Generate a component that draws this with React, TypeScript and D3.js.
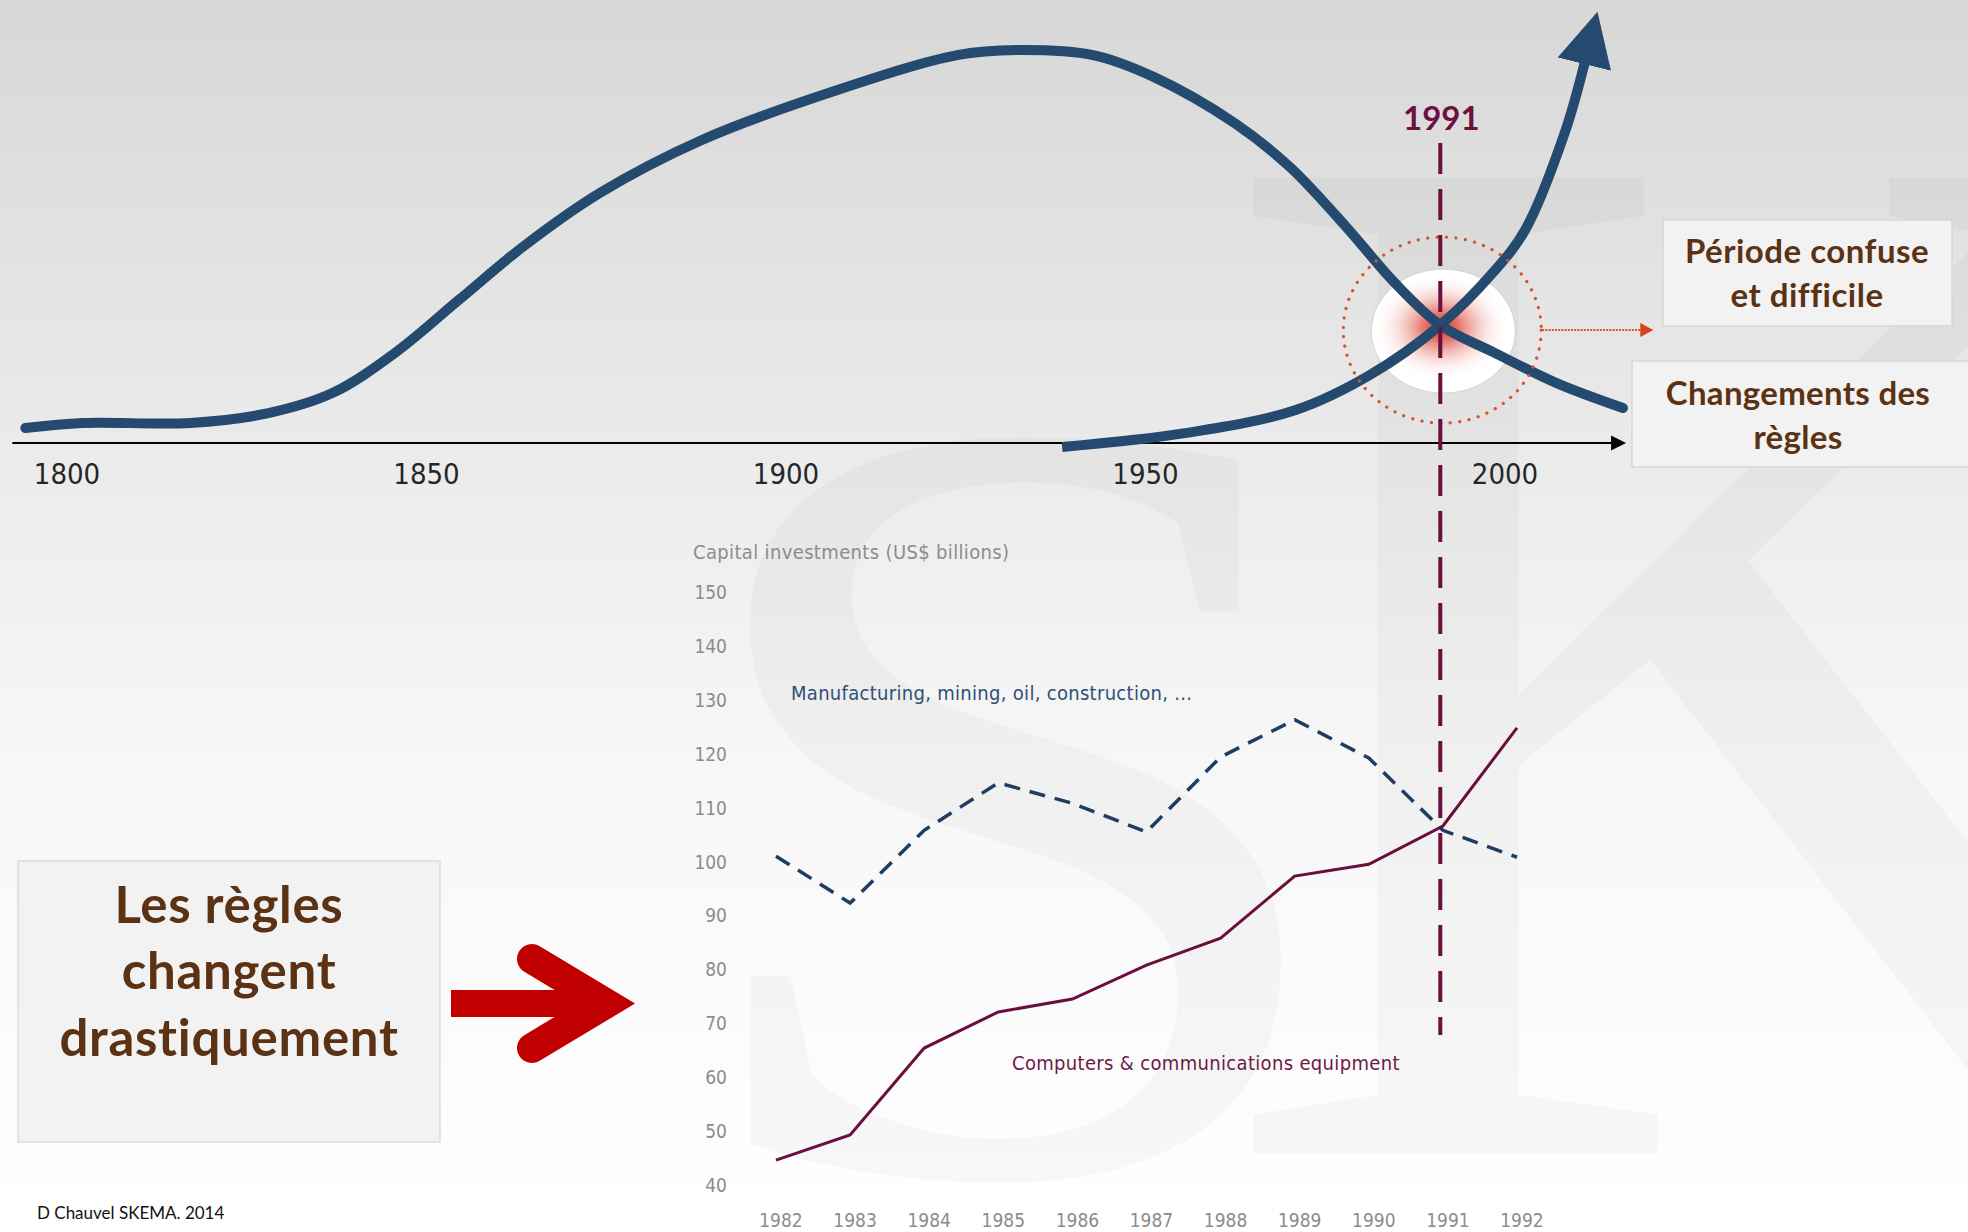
import React from 'react';
import * as d3 from 'd3';

const W = 1968;
const H = 1232;

// ---------- Top conceptual chart (two S-curves) ----------
const topTicks = [1800, 1850, 1900, 1950, 2000];
const wave1Years = [1794.2, 1802.2, 1817.2, 1828, 1836.9, 1845.6, 1854.5, 1863.4, 1874.1, 1888.3, 1906, 1923.8, 1932.1, 1942.7, 1951.2, 1962.4, 1970.1, 1977.9, 1984.7, 1991, 1998.5, 2007.1, 2016.4];
const wave1Values = [3.8, 5.1, 5.1, 7.6, 12.7, 22.9, 36.4, 49.9, 63.6, 77.1, 89.1, 98.7, 100, 98.7, 93.1, 81.4, 70.2, 55, 40.7, 30, 23, 15.3, 8.9];
const wave2Years = [1938.4, 1955.5, 1970.9, 1981.2, 1991, 1998.3, 2002.8, 2008.3, 2011.1];
const wave2Values = [-1, 2.5, 8.4, 17.3, 30, 43.3, 54.2, 78.9, 96.9];
const axisYears = [1792.4, 2016.7];
const markerYear = 1991;
const markerValue = 30;

// ---------- Bottom data chart ----------
const years = [1982, 1983, 1984, 1985, 1986, 1987, 1988, 1989, 1990, 1991, 1992];
const manufacturing = [101, 92.3, 105.8, 114.6, 110.8, 105.5, 119.4, 126.3, 119.2, 105.8, 100.8];
const computers = [44.6, 49.3, 65.4, 72.1, 74.5, 80.8, 85.8, 97.3, 99.5, 106.6, 124.8];
const yTicks = [40, 50, 60, 70, 80, 90, 100, 110, 120, 130, 140, 150];

const COND = "'DejaVu Sans Condensed', 'Liberation Sans Narrow', 'Liberation Sans', sans-serif";
const SANS = "Lato, 'Open Sans', 'Liberation Sans', sans-serif";

export default function App() {
  const xTop = d3.scaleLinear().domain([1800, 2000]).range([67, 1505]);
  const yTop = d3.scaleLinear().domain([0, 100]).range([443, 50]);

  const xB = d3.scaleLinear().domain([1982, 1992]).range([776, 1517]);
  const yB = d3.scaleLinear().domain([40, 150]).range([1185, 592]);

  const topLine = d3
    .line<[number, number]>()
    .x((d) => xTop(d[0]))
    .y((d) => yTop(d[1]))
    .curve(d3.curveCatmullRom.alpha(0.5));

  const wave1 = topLine(wave1Years.map((y, i) => [y, wave1Values[i]]) as [number, number][]) || '';
  const wave2 = topLine(wave2Years.map((y, i) => [y, wave2Values[i]]) as [number, number][]) || '';

  const bLine = d3
    .line<number>()
    .x((_, i) => xB(years[i]))
    .y((d) => yB(d));

  const mx = xTop(markerYear);
  const my = yTop(markerValue);
  const axY = yTop(0);
  const ax0 = xTop(axisYears[0]);
  const ax1 = xTop(axisYears[1]);

  return (
    <svg
      width={W}
      height={H}
      viewBox={`0 0 ${W} ${H}`}
      style={{ position: 'absolute', left: 0, top: 0, display: 'block' }}
    >
      <defs>
        <linearGradient id="bg" x1="0" y1="0" x2="0" y2="1">
          <stop offset="0" stopColor="#d7d7d7" />
          <stop offset="0.35" stopColor="#eaeaea" />
          <stop offset="0.62" stopColor="#f7f7f7" />
          <stop offset="1" stopColor="#ffffff" />
        </linearGradient>
        <radialGradient id="glow" cx="0.5" cy="0.5" r="0.5">
          <stop offset="0" stopColor="#d42418" stopOpacity="0.95" />
          <stop offset="0.25" stopColor="#dc4236" stopOpacity="0.72" />
          <stop offset="0.5" stopColor="#e7786e" stopOpacity="0.42" />
          <stop offset="0.75" stopColor="#f3bcb6" stopOpacity="0.15" />
          <stop offset="0.97" stopColor="#ffffff" stopOpacity="0" />
        </radialGradient>
        <marker
          id="bigHead"
          markerUnits="userSpaceOnUse"
          viewBox="0 -30 60 60"
          markerWidth="60"
          markerHeight="60"
          refX="2"
          refY="0"
          orient="auto"
        >
          <path d="M0,-27.5 L54,0 L0,27.5 Z" fill="#254a6f" />
        </marker>
        <marker
          id="axHead"
          markerUnits="userSpaceOnUse"
          viewBox="0 -8 16 16"
          markerWidth="16"
          markerHeight="16"
          refX="0"
          refY="0"
          orient="auto"
        >
          <path d="M0,-7.5 L15,0 L0,7.5 Z" fill="#000" />
        </marker>
        <marker
          id="dotHead"
          markerUnits="userSpaceOnUse"
          viewBox="0 -8 14 16"
          markerWidth="14"
          markerHeight="16"
          refX="0"
          refY="0"
          orient="auto"
        >
          <path d="M0,-7 L13,0 L0,7 Z" fill="#d8401a" />
        </marker>
      </defs>

      {/* background */}
      <rect x={0} y={0} width={W} height={H} fill="url(#bg)" />

      {/* watermark */}
      <g fill="#000" fillOpacity={0.028} fontFamily="'Liberation Serif', 'DejaVu Serif', serif">
        <text x={676} y={1172} fontSize={1110} transform="translate(754,0) scale(1.12,1) translate(-754,0)">S</text>
        <text x={1210} y={1153} fontSize={1490}>K</text>
      </g>

      {/* top axis */}
      <line x1={ax0} x2={ax1 - 14} y1={axY} y2={axY} stroke="#000" strokeWidth={2.2} markerEnd="url(#axHead)" />
      <g fontFamily={COND} fontSize={29} fill="#262626" textAnchor="middle">
        {topTicks.map((t) => (
          <text key={t} x={xTop(t)} y={484}>{t}</text>
        ))}
      </g>

      {/* glow */}
      <ellipse cx={mx + 3} cy={my + 6} rx={72} ry={62} fill="#ffffff" stroke="#d2d2d2" strokeWidth={1} />
      <ellipse cx={mx + 1} cy={my + 2} rx={72} ry={56} fill="url(#glow)" />

      {/* curves */}
      <path d={wave1} fill="none" stroke="#254a6f" strokeWidth={10} strokeLinecap="round" />
      <path d={wave2} fill="none" stroke="#254a6f" strokeWidth={10} strokeLinecap="butt" markerEnd="url(#bigHead)" />

      {/* dotted circle */}
      <ellipse
        cx={mx + 2}
        cy={my + 5}
        rx={99}
        ry={93}
        fill="none"
        stroke="#d4532c"
        strokeWidth={3.2}
        strokeDasharray="0.1 9.4"
        strokeLinecap="round"
      />
      <line
        x1={mx + 102}
        x2={mx + 200}
        y1={my + 5}
        y2={my + 5}
        stroke="#d4532c"
        strokeWidth={2}
        strokeDasharray="2 1.2"
        markerEnd="url(#dotHead)"
      />

      {/* 1991 vertical marker */}
      <line x1={mx} x2={mx} y1={143} y2={1035} stroke="#6a1040" strokeWidth={4} strokeDasharray="31 15" />
      <text x={mx + 1} y={130} fontFamily={SANS} fontWeight={700} fontSize={33} fill="#6d0f3f" textAnchor="middle">
        1991
      </text>

      {/* right boxes */}
      <rect x={1663} y={220} width={289} height={106} fill="#f2f2f2" stroke="#d6d6d6" strokeWidth={1.5} />
      <g fontFamily={SANS} fontWeight={700} fontSize={33} letterSpacing={0.5} fill="#5c3214" textAnchor="middle">
        <text x={1807} y={263}>Période confuse</text>
        <text x={1807} y={307}>et difficile</text>
      </g>
      <rect x={1632} y={361} width={340} height={106} fill="#f2f2f2" stroke="#d6d6d6" strokeWidth={1.5} />
      <g fontFamily={SANS} fontWeight={700} fontSize={33} letterSpacing={0.3} fill="#5c3214" textAnchor="middle">
        <text x={1798} y={405}>Changements des</text>
        <text x={1798} y={449}>règles</text>
      </g>

      {/* bottom chart */}
      <text x={693} y={559} fontFamily={COND} fontSize={20} letterSpacing={0.35} fill="#8c8c8c">
        Capital investments (US$ billions)
      </text>
      <g fontFamily={COND} fontSize={19} fill="#8c8c8c" textAnchor="end">
        {yTicks.map((t) => (
          <text key={t} x={727} y={yB(t) + 7}>{t}</text>
        ))}
      </g>
      <g fontFamily={COND} fontSize={19} fill="#8c8c8c" textAnchor="middle">
        {years.map((t) => (
          <text key={t} x={xB(t) + 5} y={1227}>{t}</text>
        ))}
      </g>
      <path d={bLine(manufacturing) || ''} fill="none" stroke="#1f3d60" strokeWidth={3.5} strokeDasharray="16 10" />
      <path d={bLine(computers) || ''} fill="none" stroke="#6a0f3d" strokeWidth={3} />
      <text x={791} y={700} fontFamily={COND} fontSize={20} letterSpacing={0.3} fill="#2e5077">
        Manufacturing, mining, oil, construction, ...
      </text>
      <text x={1012} y={1070} fontFamily={COND} fontSize={20} letterSpacing={0.33} fill="#6d1a47">
        Computers &amp; communications equipment
      </text>

      {/* left box */}
      <rect x={18} y={861} width={422} height={281} fill="#f2f2f2" stroke="#dcdcdc" strokeWidth={1.5} />
      <g fontFamily={SANS} fontWeight={700} fontSize={51} letterSpacing={0.7} fill="#5c3214" textAnchor="middle">
        <text x={229} y={923}>Les règles</text>
        <text x={229} y={989}>changent</text>
        <text x={229} y={1056}>drastiquement</text>
      </g>

      {/* red arrow */}
      <rect x={451} y={990} width={150} height={27} fill="#c00000" />
      <polyline
        points="532,959 606,1003.5 532,1048"
        fill="none"
        stroke="#c00000"
        strokeWidth={30}
        strokeLinecap="round"
        strokeLinejoin="miter"
        strokeMiterlimit={10}
      />

      {/* footer */}
      <text x={37} y={1219} fontFamily={SANS} fontSize={17} fill="#111">
        D Chauvel SKEMA. 2014
      </text>
    </svg>
  );
}
